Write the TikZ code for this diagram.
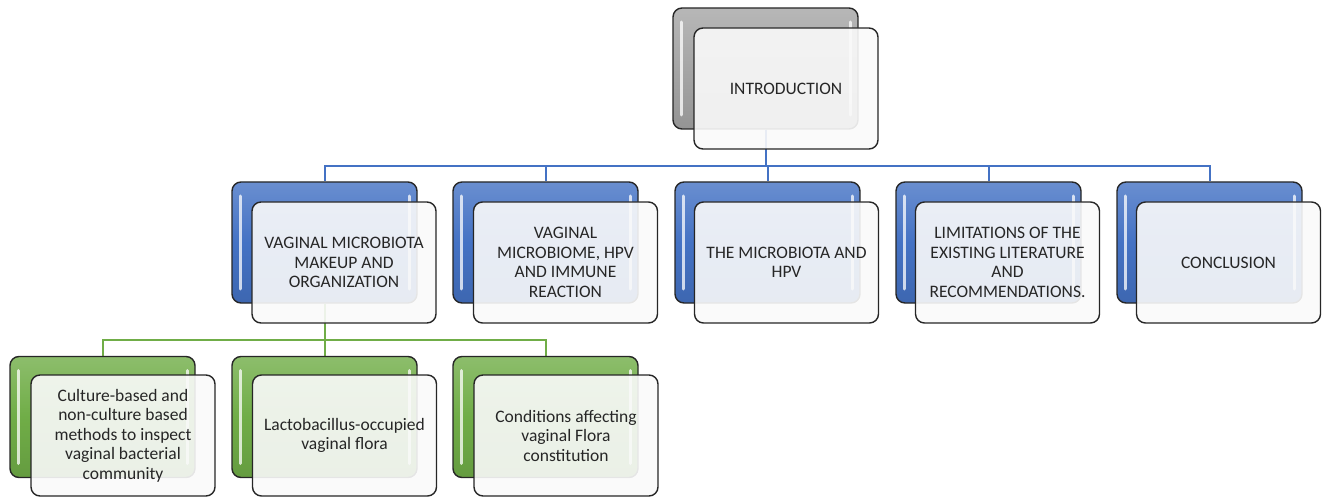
\documentclass[tikz,border=0pt]{standalone}
\usepackage{fontspec}
\setmainfont{Carlito}
\usetikzlibrary{backgrounds}
\definecolor{cblue}{HTML}{4472C4}
\definecolor{cgreen}{HTML}{70AD47}
\definecolor{cgray}{HTML}{A5A5A5}
\definecolor{ctext}{HTML}{262626}
\tikzset{
  backbox/.style={draw=black!85, line width=1.4pt, rounded corners=9pt,
    minimum width=185pt, minimum height=121pt, inner sep=0pt,
    top color=#1!80!white, bottom color=#1!90!black, middle color=#1,
    path picture={
      \draw[white, opacity=.75, line width=3pt, line cap=round]
        ([shift={(8,14)}]path picture bounding box.north west) --
        ([shift={(8,-14)}]path picture bounding box.south west);
      \draw[white, opacity=.75, line width=3pt, line cap=round]
        ([shift={(-8,14)}]path picture bounding box.north east) --
        ([shift={(-8,-14)}]path picture bounding box.south east);
    }},
  frontbox/.style={draw=black!85, line width=1.4pt, rounded corners=9pt,
    minimum width=184pt, minimum height=121pt, inner sep=4pt,
    fill=black!2, fill opacity=.9, text opacity=1,
    text=ctext, align=center, font=\fontsize{17.5}{19.5}\selectfont},
  blueline/.style={draw=cblue, line width=2pt},
  greenline/.style={draw=cgreen, line width=2pt},
}
\begin{document}
\begin{tikzpicture}[x=1pt, y=-1pt]
\useasboundingbox (0,0) rectangle (1322,497);

% introduction
\node[backbox=cgray] (i0b) at (765.5,68.5) {};
\node[frontbox] (i0) at (786,88.5) {INTRODUCTION};

% second level
\node[backbox=cblue] (b1b) at (324.5,242.5) {};
\node[frontbox] (b1) at (344,262.5) {VAGINAL MICROBIOTA\\MAKEUP AND\\ORGANIZATION};
\node[backbox=cblue] (b2b) at (545.5,242.5) {};
\node[frontbox] (b2) at (565.5,262.5) {VAGINAL\\MICROBIOME, HPV\\AND IMMUNE\\REACTION};
\node[backbox=cblue] (b3b) at (767.5,242.5) {};
\node[frontbox] (b3) at (786.5,262.5) {THE MICROBIOTA AND\\HPV};
\node[backbox=cblue] (b4b) at (988.5,242.5) {};
\node[frontbox] (b4) at (1007.5,262.5) {LIMITATIONS OF THE\\EXISTING LITERATURE\\AND\\RECOMMENDATIONS.};
\node[backbox=cblue] (b5b) at (1209.5,242.5) {};
\node[frontbox] (b5) at (1228.5,262.5) {CONCLUSION};

% third level
\node[backbox=cgreen] (g1b) at (102.5,417) {};
\node[frontbox] (g1) at (123,435.5) {Culture-based and\\non-culture based\\methods to inspect\\vaginal bacterial\\community};
\node[backbox=cgreen] (g2b) at (324.5,417) {};
\node[frontbox] (g2) at (344.5,435.5) {Lactobacillus-occupied\\vaginal flora};
\node[backbox=cgreen] (g3b) at (545.5,417) {};
\node[frontbox] (g3) at (566,435.5) {Conditions affecting\\vaginal Flora\\constitution};

\coordinate (bus) at (765.5,166);
\coordinate (gbus) at (324.5,340);

\begin{scope}[on background layer]
  \foreach \t in {b1b,b2b,b3b,b4b,b5b}
    \draw[blueline] (i0b.south) -- (bus) -| (\t.north);
  \foreach \t in {g1b,g2b,g3b}
    \draw[greenline] (b1b.south) -- (gbus) -| (\t.north);
\end{scope}
\end{tikzpicture}
\end{document}
